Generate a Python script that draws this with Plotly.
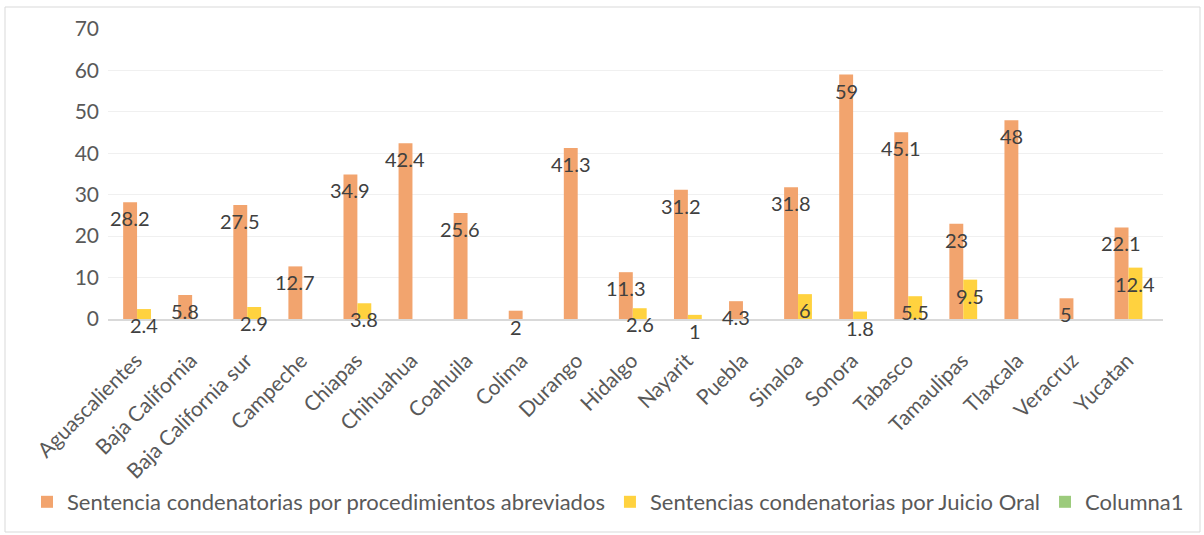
import plotly.graph_objects as go

# Entidades federativas
estados = [
    "Aguascalientes", "Baja California", "Baja California sur", "Campeche",
    "Chiapas", "Chihuahua", "Coahuila", "Colima", "Durango", "Hidalgo",
    "Nayarit", "Puebla", "Sinaloa", "Sonora", "Tabasco", "Tamaulipas",
    "Tlaxcala", "Veracruz", "Yucatan",
]

# Porcentaje de sentencias condenatorias
abreviados = [28.2, 5.8, 27.5, 12.7, 34.9, 42.4, 25.6, 2, 41.3, 11.3,
              31.2, 4.3, 31.8, 59, 45.1, 23, 48, 5, 22.1]
juicio_oral = [2.4, None, 2.9, None, 3.8, None, None, None, None, 2.6,
               1, None, 6, 1.8, 5.5, 9.5, None, None, 12.4]
columna1 = [None] * len(estados)

series = [
    ("Sentencia condenatorias por procedimientos abreviados", abreviados, "#F2A46E"),
    ("Sentencias condenatorias por Juicio Oral", juicio_oral, "#FFD23F"),
    ("Columna1", columna1, "#9CCB7C"),
]

y_ticks = [0, 10, 20, 30, 40, 50, 60, 70]

FONT = "Lato, 'Open Sans', sans-serif"
LABEL_COLOR = "#404040"
AXIS_TEXT = "#595959"

# plot area geometry (px)
L, R, T, B = 108, 41, 29, 216
W, H = 1204, 535
plot_w = W - L - R
plot_h = H - T - B
bargap = 0.243
bar_px = plot_w / len(estados) * (1 - bargap) / len(series)

fig = go.Figure()
for name, vals, color in series:
    fig.add_trace(go.Bar(
        x=estados, y=vals, name=name,
        marker=dict(color=color, line=dict(width=0)),
        hoverinfo="x+y",
    ))

# data labels sit just inside the end of each bar
annotations = []
for k, (name, vals, color) in enumerate(series):
    shift = (k - (len(series) - 1) / 2) * bar_px
    for est, v in zip(estados, vals):
        if v is None:
            continue
        annotations.append(dict(
            x=est, y=v, xref="x", yref="y",
            text=f"{v:g}", showarrow=False,
            xshift=shift, yshift=-16, yanchor="middle", xanchor="center",
            font=dict(family=FONT, size=20, color=LABEL_COLOR),
        ))

# outer chart frame
px2x = lambda px: (px - L) / plot_w
px2y = lambda py: (H - B - py) / plot_h
shapes = [dict(
    type="rect", xref="paper", yref="paper",
    x0=px2x(5), x1=px2x(1200), y0=px2y(532), y1=px2y(7),
    line=dict(color="#D9D9D9", width=1), fillcolor="rgba(0,0,0,0)", layer="below",
)]

fig.update_layout(
    width=W, height=H,
    margin=dict(l=L, r=R, t=T, b=B),
    paper_bgcolor="white", plot_bgcolor="white",
    barmode="group", bargap=bargap, bargroupgap=0,
    font=dict(family=FONT, color=AXIS_TEXT),
    showlegend=True,
    legend=dict(
        orientation="h", x=px2x(27), xanchor="left",
        y=px2y(502), yanchor="middle",
        font=dict(family=FONT, size=22, color=AXIS_TEXT),
        itemwidth=30, traceorder="normal",
    ),
    annotations=annotations,
    shapes=shapes,
)
fig.update_xaxes(
    type="category", tickangle=-45, showgrid=False,
    showline=True, linecolor="#D9D9D9", linewidth=2,
    ticks="", ticklabelstandoff=19, ticklabelshift=-8,
    tickfont=dict(family=FONT, size=21, color=AXIS_TEXT),
)
fig.update_yaxes(
    range=[0, 70], tickvals=y_ticks, showgrid=True, gridcolor="#F0F0F0",
    gridwidth=1, zeroline=False, showline=False, ticks="",
    ticklabelstandoff=8,
    tickfont=dict(family=FONT, size=21, color=AXIS_TEXT),
)

fig.write_html("out.html")
